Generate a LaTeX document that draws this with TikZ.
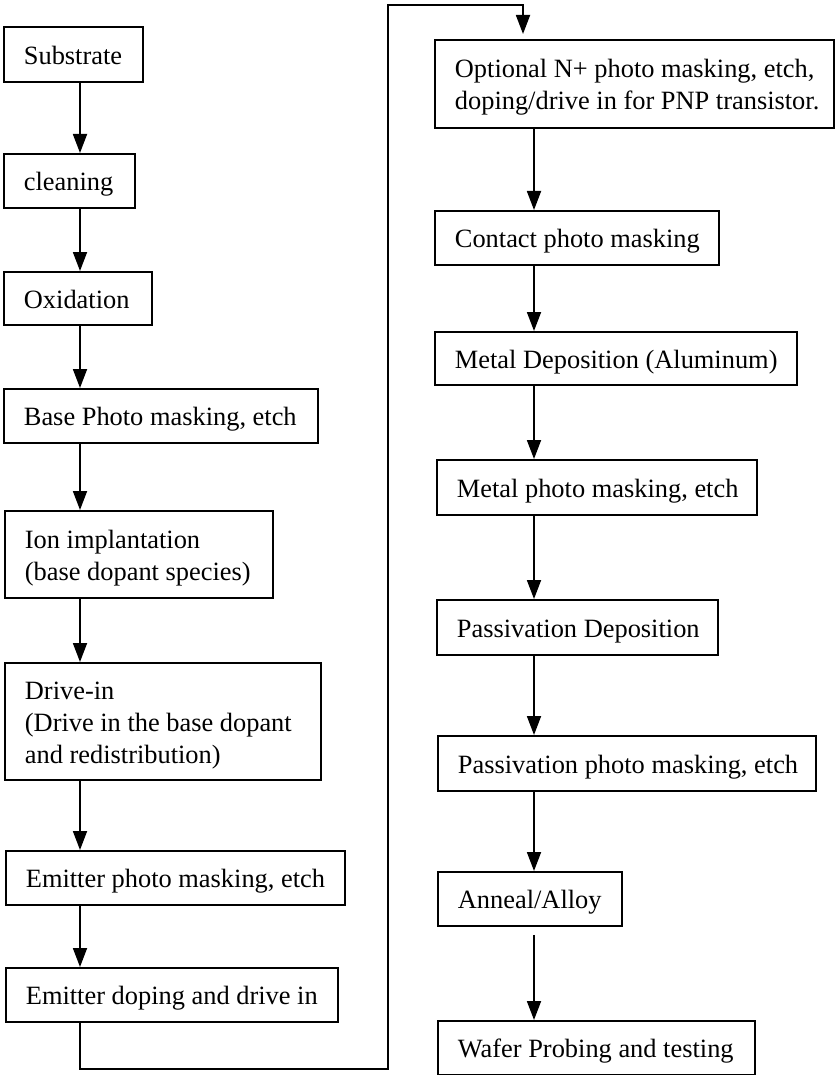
\documentclass[tikz,border=0pt]{standalone}
\usepackage{fontspec}
\setmainfont{Liberation Serif}
\usetikzlibrary{arrows.meta}
\newcommand{\bx}[2]{\raisebox{-3.5pt}[\height][\depth]{\makebox[#1][l]{\begin{tabular}{@{}l@{}}#2\end{tabular}}}}
\begin{document}
\begin{tikzpicture}[x=1pt,y=1pt,
  box/.style={draw, line width=1.8pt, anchor=north west, inner xsep=20pt, inner ysep=0pt,
    font=\fontsize{26.4}{32}\selectfont},
  arr/.style={line width=1.8pt, -{Triangle[length=19pt,width=14pt]}},
  ln/.style={line width=1.8pt}]
\useasboundingbox (0,0) rectangle (835,-1075);
% left column
\node[box, minimum width=139pt, minimum height=55pt] (sub) at (3,-26) {\bx{99pt}{Substrate}};
\node[box, minimum width=131pt, minimum height=54pt] (cln) at (3,-153) {\bx{91pt}{cleaning}};
\node[box, minimum width=148pt, minimum height=53pt] (oxi) at (3,-271) {\bx{108pt}{Oxidation}};
\node[box, minimum width=314pt, minimum height=54pt] (base) at (3,-388) {\bx{274pt}{Base Photo masking, etch}};
\node[box, minimum width=268pt, minimum height=87pt] (ion) at (4,-510) {\bx{228pt}{Ion implantation\\(base dopant species)}};
\node[box, minimum width=316pt, minimum height=117pt] (drv) at (4,-662) {\bx{276pt}{Drive-in\\(Drive in the base dopant\\and redistribution)}};
\node[box, minimum width=339pt, minimum height=54pt] (emp) at (5,-850) {\bx{299pt}{Emitter photo masking, etch}};
\node[box, minimum width=332pt, minimum height=54pt] (emd) at (5,-967) {\bx{292pt}{Emitter doping and drive in}};
% right column
\node[box, minimum width=399pt, minimum height=88pt] (opt) at (434,-39) {\bx{359pt}{Optional N+ photo masking, etch,\\doping/drive in for PNP transistor.}};
\node[box, minimum width=284pt, minimum height=54pt] (con) at (434,-210) {\bx{244pt}{Contact photo masking}};
\node[box, minimum width=362pt, minimum height=53pt] (met) at (434,-331) {\bx{322pt}{Metal Deposition (Aluminum)}};
\node[box, minimum width=320pt, minimum height=55pt] (mpm) at (436,-459) {\bx{280pt}{Metal photo masking, etch}};
\node[box, minimum width=281pt, minimum height=55pt] (pdp) at (436,-599) {\bx{241pt}{Passivation Deposition}};
\node[box, minimum width=378pt, minimum height=55pt] (ppm) at (437,-735) {\bx{338pt}{Passivation photo masking, etch}};
\node[box, minimum width=184pt, minimum height=54pt] (ann) at (437,-871) {\bx{144pt}{Anneal/Alloy}};
\node[box, minimum width=317pt, minimum height=54pt] (waf) at (437,-1020) {\bx{277pt}{Wafer Probing and testing}};
% guide coordinates
\coordinate (L) at (80,0);
\coordinate (R) at (534,0);
\coordinate (c1) at (80,-1069);
\coordinate (c2) at (388,-1069);
\coordinate (c3) at (388,-5);
\coordinate (c4) at (523,-5);
% left arrows
\draw[arr] (sub.south -| L) -- (cln.north -| L);
\draw[arr] (cln.south -| L) -- (oxi.north -| L);
\draw[arr] (oxi.south -| L) -- (base.north -| L);
\draw[arr] (base.south -| L) -- (ion.north -| L);
\draw[arr] (ion.south -| L) -- (drv.north -| L);
\draw[arr] (drv.south -| L) -- (emp.north -| L);
\draw[arr] (emp.south -| L) -- (emd.north -| L);
% loop connector
\draw[arr, line join=miter, shorten >=5pt] (emd.south -| L) -- (c1) -- (c2) -- (c3) -- (c4) -- (opt.north -| c4);
% right arrows
\draw[arr] (opt.south -| R) -- (con.north -| R);
\draw[arr] (con.south -| R) -- (met.north -| R);
\draw[arr] (met.south -| R) -- (mpm.north -| R);
\draw[arr] (mpm.south -| R) -- (pdp.north -| R);
\draw[arr] (pdp.south -| R) -- (ppm.north -| R);
\draw[arr] (ppm.south -| R) -- (ann.north -| R);
\draw[arr, shorten <=8pt] (ann.south -| R) -- (waf.north -| R);
\end{tikzpicture}
\end{document}
